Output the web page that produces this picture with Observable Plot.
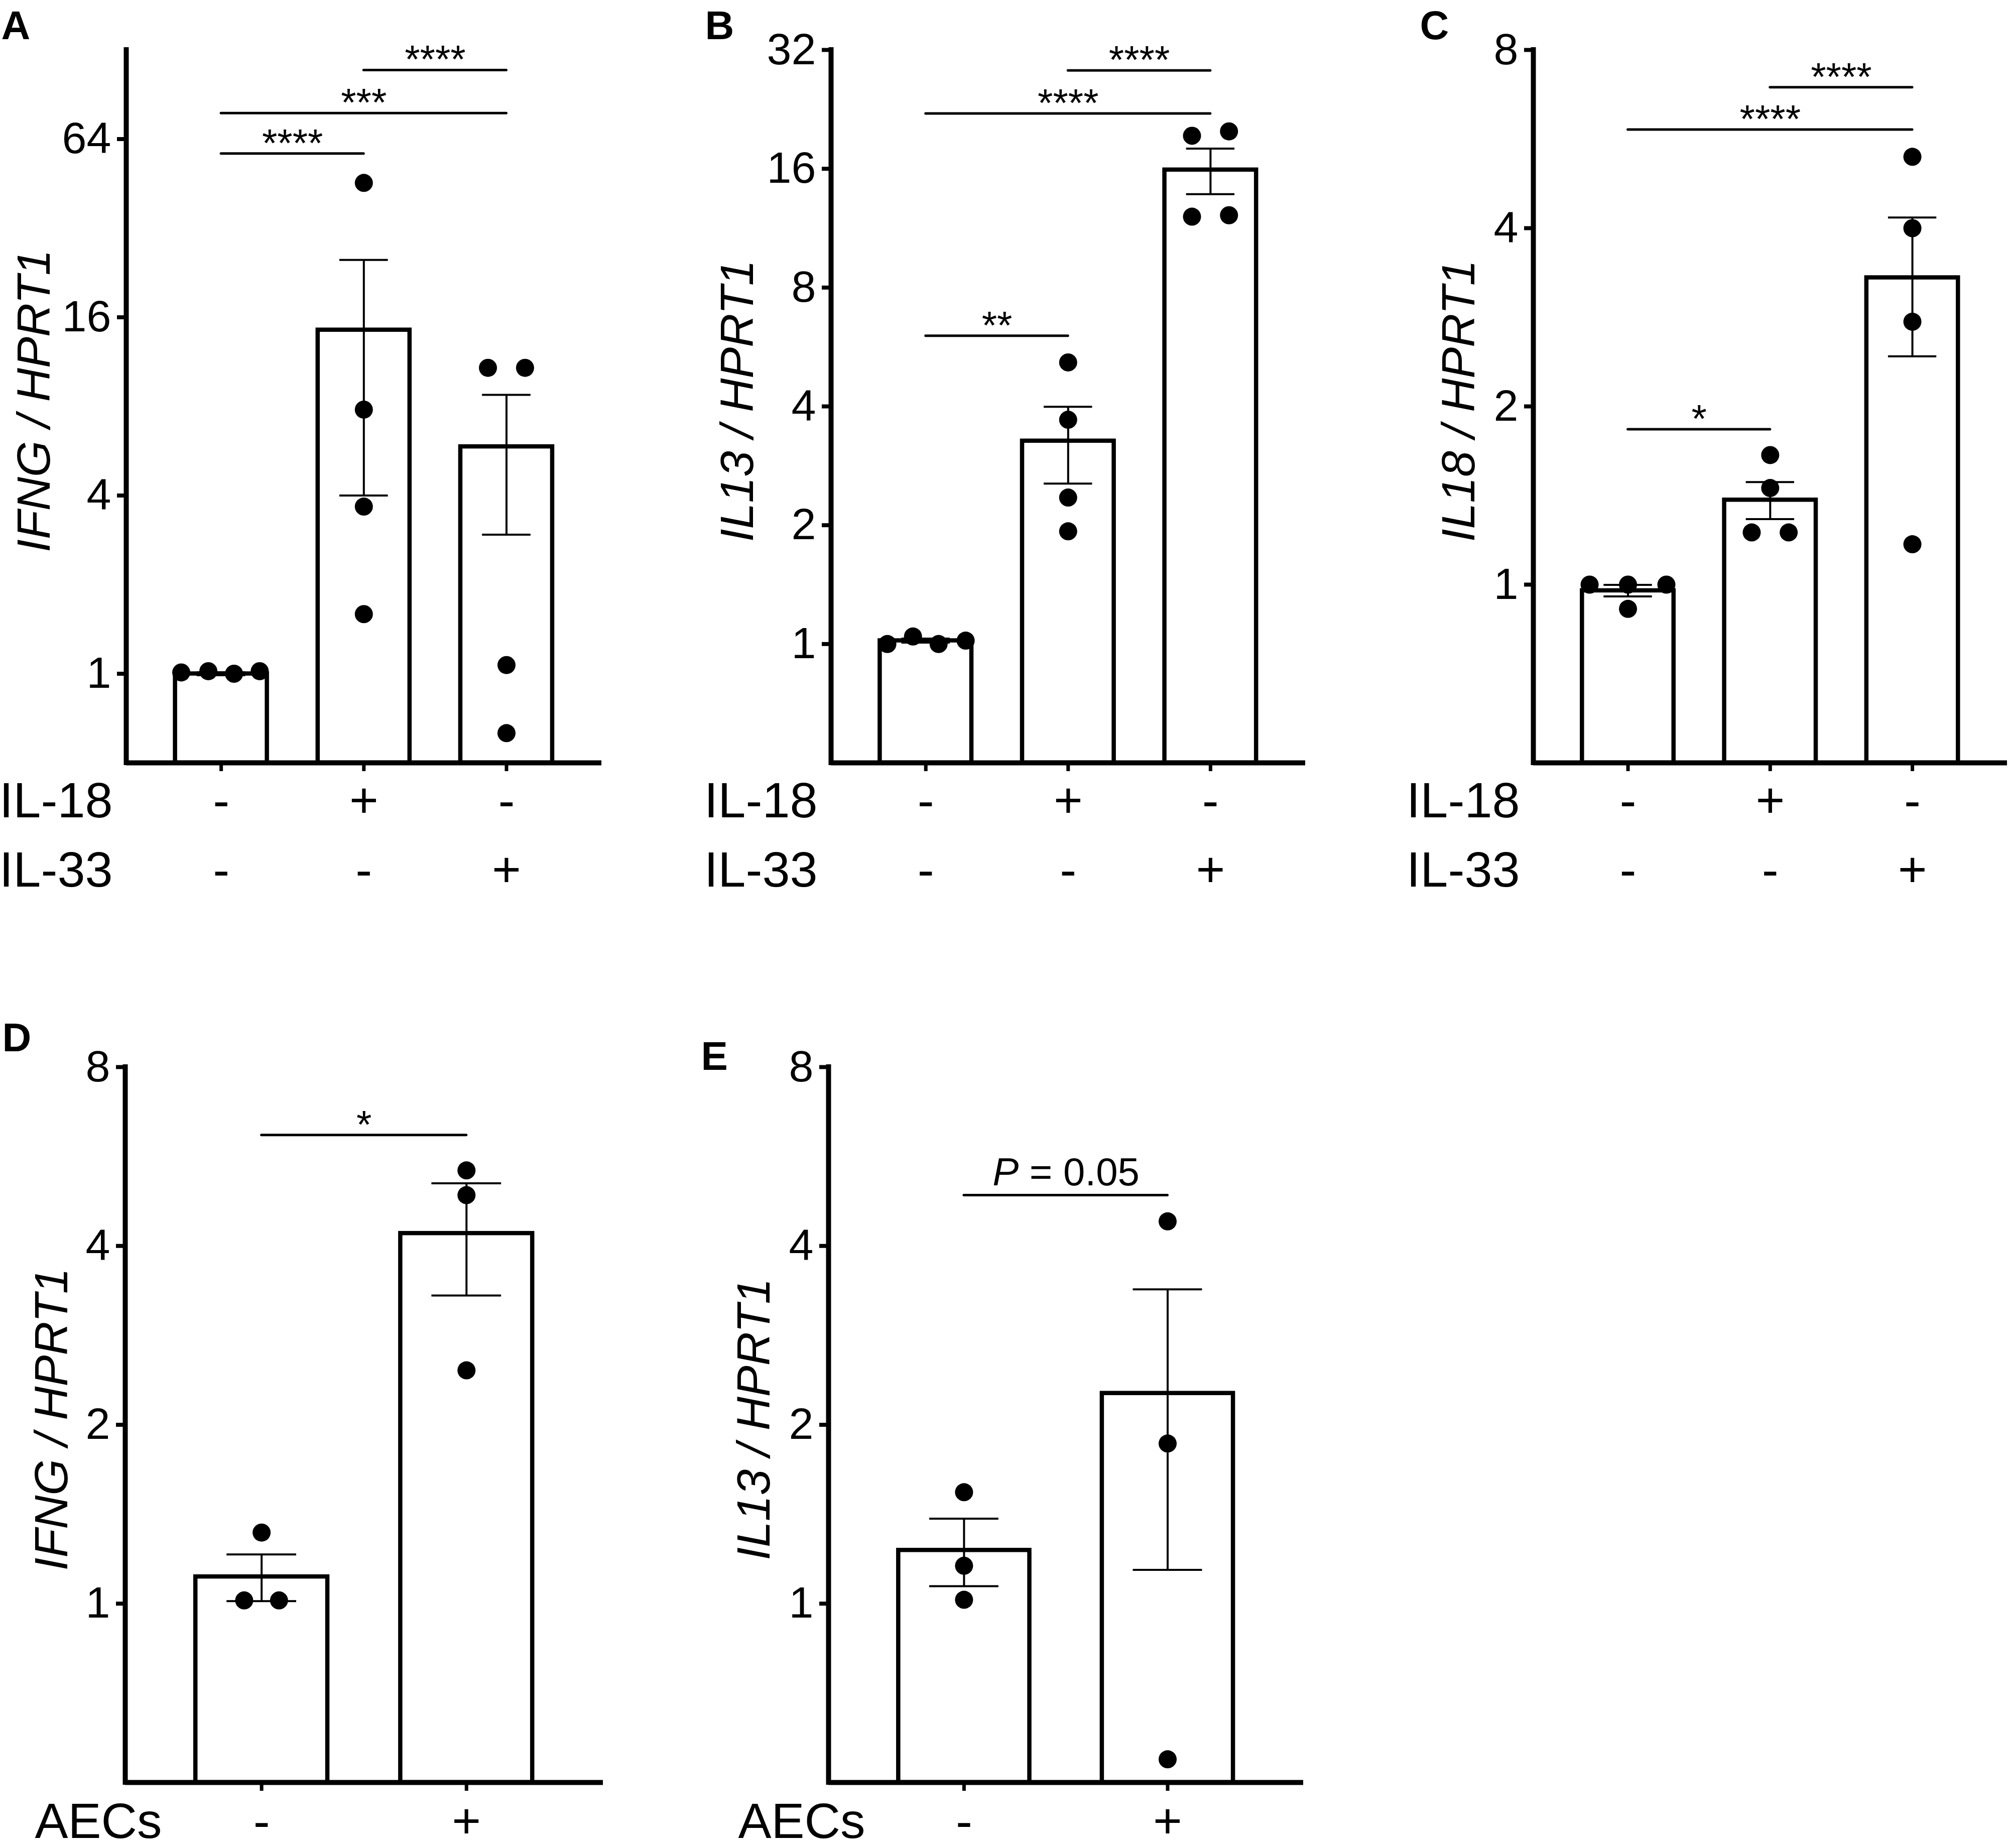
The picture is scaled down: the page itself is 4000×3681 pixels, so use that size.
<!DOCTYPE html>
<html>
<head>
<meta charset="utf-8">
<script src="https://cdn.jsdelivr.net/npm/d3@7"></script>
<script src="https://cdn.jsdelivr.net/npm/@observablehq/plot@0.6"></script>
<style>
  html, body { margin: 0; padding: 0; background: #fff; }
  #root { position: relative; width: 4000px; height: 3681px; overflow: hidden; background: #fff; }
  #root svg { position: absolute; overflow: visible; max-width: none !important; }
</style>
</head>
<body>
<div id="root"></div>
<script>
// ---------------- data ----------------
const il18Signs = ["-", "+", "-"];
const il33Signs = ["-", "-", "+"];
const aecSigns = ["-", "+"];

// Panel A: IFNG / HPRT1
const meanA = [1.0, 14.5, 5.85];
const semA = [0.012, 10.5, 2.9];
const ptsA = [[1.01, 1.02, 1.0, 1.02], [45.5, 7.8, 3.67, 1.59], [10.8, 10.8, 1.07, 0.63]];
const jitA = [[-0.28, -0.09, 0.09, 0.27], [0, 0, 0, 0], [-0.13, 0.13, 0, 0]];
const sigA = [{a: 0, b: 1, y: 57.2, t: "****"}, {a: 0, b: 2, y: 78.3, t: "***"}, {a: 1, b: 2, y: 109.5, t: "****"}];

// Panel B: IL13 / HPRT1
const meanB = [1.02, 3.27, 15.9];
const semB = [0.012, 0.72, 2.1];
const ptsB = [[1.0, 1.045, 1.0, 1.02], [5.17, 3.7, 2.35, 1.93], [19.4, 19.9, 12.1, 12.2]];
const jitB = [[-0.27, -0.09, 0.09, 0.28], [0, 0, 0, 0], [-0.13, 0.13, -0.13, 0.13]];
const sigB = [{a: 0, b: 1, y: 6.04, t: "**"}, {a: 0, b: 2, y: 22.1, t: "****"}, {a: 1, b: 2, y: 28.4, t: "****"}];

// Panel C: IL18 / HPRT1
const meanC = [0.977, 1.39, 3.3];
const semC = [0.022, 0.1, 0.87];
const ptsC = [[1.0, 1.0, 1.0, 0.91], [1.655, 1.456, 1.225, 1.225], [5.28, 4.0, 2.78, 1.17]];
const jitC = [[-0.27, 0, 0.27, 0], [0, 0, -0.13, 0.13], [0, 0, 0, 0]];
const sigC = [{a: 0, b: 1, y: 1.83, t: "*"}, {a: 0, b: 2, y: 5.87, t: "****"}, {a: 1, b: 2, y: 6.92, t: "****"}];

// Panel D: IFNG / HPRT1 with AECs
const meanD = [1.11, 4.2];
const semD = [0.1, 0.9];
const ptsD = [[1.317, 1.0125, 1.0125], [5.36, 4.87, 2.47]];
const jitD = [[0, -0.085, 0.085], [0, 0, 0]];
const sigD = [{a: 0, b: 1, y: 6.15, t: "*"}];

// Panel E: IL13 / HPRT1 with AECs
const meanE = [1.23, 2.26];
const semE = [0.16, 1.12];
const ptsE = [[1.54, 1.158, 1.015], [4.40, 1.86, 0.547]];
const jitE = [[0, 0, 0], [0, 0, 0]];
const sigE = [{a: 0, b: 1, y: 4.87, t: "P = 0.05"}];

const ticksA = [1, 4, 16, 64];
const ticksB = [1, 2, 4, 8, 16, 32];
const ticksC = [1, 2, 4, 8];
const ticksD = [1, 2, 4, 8];
const ticksE = [1, 2, 4, 8];

// ---------------- layout ----------------
const FONT = "'Liberation Sans', Arial, Helvetica, sans-serif";
const BAR_HALF = 0.322;
const CAP = 0.17;
const PAD_L = 0.6655, PAD_R = 0.667;

const panels = [
  {letter: "A", ylabel: "IFNG / HPRT1", means: meanA, sems: semA, pts: ptsA, jit: jitA, sig: sigA, ticks: ticksA,
   yDomain: [0.5, 128], box: {x: 0, y: 0, w: 1300, h: 1840}, frame: {l: 251, r: 1198, t: 99, b: 1519},
   rows: [{label: "IL-18", values: il18Signs, dy: 108}, {label: "IL-33", values: il33Signs, dy: 246}],
   rowAnchor: "end", rowDx: -27, labelDx: -153, letterDx: -249, letterDy: -22},
  {letter: "B", ylabel: "IL13 / HPRT1", means: meanB, sems: semB, pts: ptsB, jit: jitB, sig: sigB, ticks: ticksB,
   yDomain: [0.5, 32], box: {x: 1300, y: 0, w: 1350, h: 1840}, frame: {l: 1655, r: 2600, t: 99, b: 1519},
   rows: [{label: "IL-18", values: il18Signs, dy: 108}, {label: "IL-33", values: il33Signs, dy: 246}],
   rowAnchor: "end", rowDx: -27, labelDx: -156, letterDx: -251, letterDy: -22},
  {letter: "C", ylabel: "IL18 / HPRT1", means: meanC, sems: semC, pts: ptsC, jit: jitC, sig: sigC, ticks: ticksC,
   yDomain: [0.5, 8], box: {x: 2650, y: 0, w: 1350, h: 1840}, frame: {l: 3054, r: 3998, t: 99, b: 1519},
   rows: [{label: "IL-18", values: il18Signs, dy: 108}, {label: "IL-33", values: il33Signs, dy: 246}],
   rowAnchor: "end", rowDx: -27, labelDx: -118, letterDx: -226, letterDy: -22},
  {letter: "D", ylabel: "IFNG / HPRT1", means: meanD, sems: semD, pts: ptsD, jit: jitD, sig: sigD, ticks: ticksD,
   yDomain: [0.5, 8], box: {x: 0, y: 1900, w: 1300, h: 1781}, frame: {l: 249, r: 1201, t: 2125, b: 3550},
   rows: [{label: "AECs", values: aecSigns, dy: 110}],
   rowAnchor: "start", rowDx: -180, labelDx: -116, letterDx: -245, letterDy: -32},
  {letter: "E", ylabel: "IL13 / HPRT1", means: meanE, sems: semE, pts: ptsE, jit: jitE, sig: sigE, ticks: ticksE,
   yDomain: [0.5, 8], box: {x: 1300, y: 1900, w: 1350, h: 1781}, frame: {l: 1650, r: 2596, t: 2125, b: 3550},
   rows: [{label: "AECs", values: aecSigns, dy: 110}],
   rowAnchor: "start", rowDx: -180, labelDx: -118, letterDx: -254, letterDy: 5}
];

function buildPanel(p) {
  const n = p.means.length;
  const cats = d3.range(n);
  const bars = p.means.map((m, i) => ({i, mean: m, sem: p.sems[i]}));
  const dots = p.pts.flatMap((vs, i) => vs.map((v, k) => ({x: i + p.jit[i][k], v})));
  const [yMin, yMax] = p.yDomain;
  const xDomain = [-PAD_L, n - 1 + PAD_R];
  const starSig = p.sig.filter(d => !d.t.startsWith("P"));
  const pSig = p.sig.filter(d => d.t.startsWith("P"));

  const marks = [
    Plot.rect(bars, {x1: d => d.i - BAR_HALF, x2: d => d.i + BAR_HALF, y1: () => yMin, y2: "mean",
      fill: "white", stroke: "black", strokeWidth: 8.5}),
    Plot.ruleX(bars, {x: "i", y1: d => d.mean - d.sem, y2: d => d.mean + d.sem, stroke: "black", strokeWidth: 4}),
    Plot.ruleY(bars, {x1: d => d.i - CAP, x2: d => d.i + CAP, y: d => d.mean + d.sem, stroke: "black", strokeWidth: 4}),
    Plot.ruleY(bars, {x1: d => d.i - CAP, x2: d => d.i + CAP, y: d => d.mean - d.sem, stroke: "black", strokeWidth: 4}),
    Plot.dot(dots, {x: "x", y: "v", r: 18, fill: "black"}),
    Plot.ruleY(p.sig, {x1: "a", x2: "b", y: "y", stroke: "black", strokeWidth: 5, strokeLinecap: "round"}),
    Plot.text(starSig, {x: d => (d.a + d.b) / 2, y: "y", text: "t", lineAnchor: "bottom", dy: 6, fontSize: 78, fill: "black"}),
    Plot.text(pSig, {x: d => (d.a + d.b) / 2, y: "y", text: d => d.t.split(" ")[0], textAnchor: "start", lineAnchor: "bottom",
      dx: -146, dy: -20, fontSize: 78, fontStyle: "italic", fill: "black"}),
    Plot.text(pSig, {x: d => (d.a + d.b) / 2, y: "y", text: d => "\u00a0" + d.t.split(" ").slice(1).join(" "), textAnchor: "start", lineAnchor: "bottom",
      dx: -94, dy: -20, fontSize: 78, fill: "black"}),
    // axes
    Plot.ruleY([yMin], {stroke: "black", strokeWidth: 10}),
    Plot.ruleX([xDomain[0]], {y1: () => yMin, y2: () => yMax, stroke: "black", strokeWidth: 10, strokeLinecap: "square"}),
    Plot.axisY(p.ticks, {anchor: "left", tickSize: 18, tickPadding: 12, tickFormat: d => String(d),
      fontSize: 88, strokeWidth: 8, label: null, fill: "black", stroke: "black"}),
    Plot.axisX(cats, {anchor: "bottom", tickSize: 17, tickFormat: () => "", strokeWidth: 7, label: null, stroke: "black"}),
    // y label
    Plot.text([p.ylabel], {frameAnchor: "left", rotate: -90, dx: p.labelDx, dy: -11, textAnchor: "middle",
      lineAnchor: "bottom", fontSize: 93, fontStyle: "italic", fill: "black"}),
    // panel letter
    Plot.text([p.letter], {frameAnchor: "top-left", dx: p.letterDx, dy: p.letterDy, textAnchor: "start",
      lineAnchor: "bottom", fontSize: 80, fontWeight: "bold", fill: "black"})
  ];
  for (const row of p.rows) {
    marks.push(Plot.text(cats, {x: d => d, text: d => row.values[d], frameAnchor: "bottom", dy: row.dy,
      lineAnchor: "bottom", fontSize: 99, fill: "black"}));
    marks.push(Plot.text([row.label], {frameAnchor: "bottom-left", dx: p.rowDx, dy: row.dy, textAnchor: p.rowAnchor,
      lineAnchor: "bottom", fontSize: 99, fill: "black"}));
  }

  const svg = Plot.plot({
    width: p.box.w,
    height: p.box.h,
    marginLeft: p.frame.l - p.box.x,
    marginRight: p.box.x + p.box.w - p.frame.r,
    marginTop: p.frame.t - p.box.y,
    marginBottom: p.box.y + p.box.h - p.frame.b,
    style: {background: "transparent", color: "black", fontFamily: FONT, overflow: "visible"},
    x: {type: "linear", domain: xDomain},
    y: {type: "log", base: 2, domain: p.yDomain},
    marks
  });
  svg.style.left = p.box.x + "px";
  svg.style.top = p.box.y + "px";
  return svg;
}

const root = document.getElementById("root");
for (const p of panels) root.appendChild(buildPanel(p));
</script>
</body>
</html>
